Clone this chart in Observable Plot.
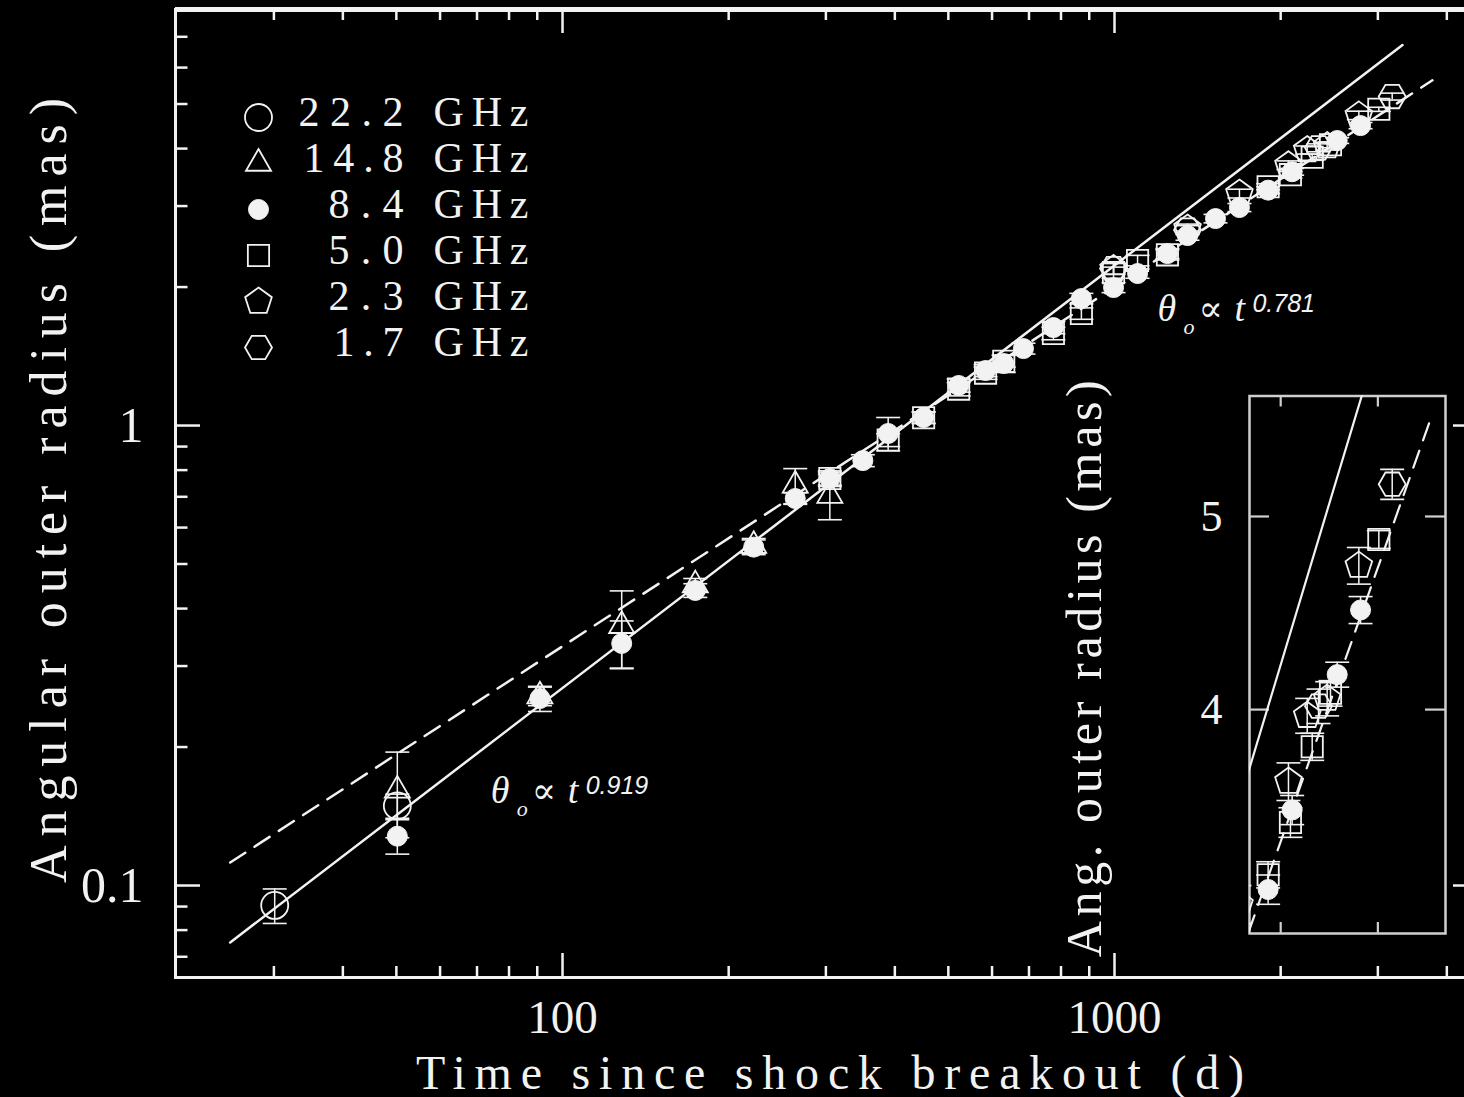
<!DOCTYPE html>
<html>
<head>
<meta charset="utf-8">
<script src="https://cdn.jsdelivr.net/npm/d3@7"></script>
<script src="https://cdn.jsdelivr.net/npm/@observablehq/plot@0.6"></script>
<style>
  html, body { margin: 0; padding: 0; background: #000; overflow: hidden; }
  #wrap { position: relative; width: 1464px; height: 1097px; overflow: hidden; background: #000; }
  #wrap > svg { position: absolute; }
</style>
</head>
<body>
<div id="wrap"></div>
<script>
// ---------------- data ----------------
const xDomain = [19.9, 4565];
const yDomain = [0.0631, 8.025];
const xMajorTicks = [100, 1000];
const xMinorTicks = [30, 40, 50, 60, 70, 80, 90, 200, 300, 400, 500, 600, 700, 800, 900, 2000, 3000, 4000];
const yMajorTicks = [0.1, 1];
const yMinorTicks = [0.07, 0.08, 0.09, 0.2, 0.3, 0.4, 0.5, 0.6, 0.7, 0.8, 0.9, 2, 3, 4, 5, 6, 7];

const freqLabels = ["22.2", "14.8", "8.4", "5.0", "2.3", "1.7"];
const legendNumberWidths = [105, 100, 75, 75, 75, 70];

// 22.2 GHz (open circles)
const t_222 = [30.1, 50.2];
const theta_222 = [0.0905, 0.149];
const err_222 = [0.0078, 0.009];

// 14.8 GHz (open triangles)
const t_148 = [50.2, 91.0, 128, 174, 222, 264, 305];
const theta_148 = [0.161, 0.258, 0.367, 0.450, 0.548, 0.741, 0.704];
const err_148 = [0.034, 0.012, 0.070, 0.015, 0.020, 0.065, 0.080];

// 8.4 GHz (filled circles)
const t_84 = [50.2, 91.0, 128, 174, 222, 264, 305, 350, 389, 451, 522, 584, 630, 684, 775, 871, 996, 1101, 1247, 1356, 1524, 1684, 1898, 2098, 2532, 2791];
const theta_84 = [0.128, 0.255, 0.336, 0.438, 0.544, 0.694, 0.767, 0.839, 0.961, 1.041, 1.222, 1.317, 1.364, 1.470, 1.633, 1.888, 1.995, 2.140, 2.365, 2.588, 2.818, 2.978, 3.249, 3.562, 4.165, 4.488];
const err_84 = [0.011, 0.016, 0.040, 0.015, 0.020, 0.020, 0.025, 0.025, 0.080, 0.030, 0.040, 0.040, 0.060, 0.040, 0.050, 0.050, 0.050, 0.050, 0.060, 0.060, 0.060, 0.060, 0.055, 0.060, 0.060, 0.070];

// 5.0 GHz (open squares)
const t_50 = [305, 389, 451, 522, 584, 630, 775, 871, 996, 1101, 1247, 1898, 2083, 2281, 2462, 3012];
const theta_50 = [0.767, 0.930, 1.040, 1.200, 1.300, 1.380, 1.586, 1.752, 2.150, 2.284, 2.350, 3.305, 3.511, 3.832, 4.076, 4.869];
const err_50 = [0.03, 0.03, 0.03, 0.04, 0.04, 0.04, 0.05, 0.05, 0.06, 0.06, 0.06, 0.05, 0.06, 0.06, 0.06, 0.05];

// 2.3 GHz (open pentagons)
const t_23 = [996, 1356, 1684, 2066, 2234, 2428, 2771];
const theta_23 = [2.190, 2.681, 3.194, 3.681, 3.972, 4.051, 4.724];
const err_23 = [0.06, 0.06, 0.07, 0.08, 0.08, 0.08, 0.10];

// 1.7 GHz (open hexagons)
const t_17 = [996, 1356, 2342, 3185];
const theta_17 = [2.194, 2.660, 4.016, 5.190];
const err_17 = [0.06, 0.06, 0.08, 0.09];

// power-law fits
const fitSolidT = [25.0, 3325];
const fitSolidTheta = [0.0752, 6.72];
const fitDashT = [25.0, 3767];
const fitDashTheta = [0.1122, 5.63];

// annotations
const annotT = [74.1, 1196];
const annotTheta = [0.1508, 1.691];
const annotExp = ["0.919", "0.781"];

// inset
const insetXDomain = [1756, 3978];
const insetYDomain = [3.088, 5.747];
const insetXTicks = [2000, 3000];
const insetYTicks = [4, 5];

// ---------------- symbols ----------------
const INK = "#f2f2f2";
const SERIF = "'Liberation Serif', 'DejaVu Serif', serif";
const SANS = "'Liberation Sans', 'DejaVu Sans', sans-serif";

function polygon(n, start) {
  return {
    draw(ctx, size) {
      const R = Math.sqrt(size / Math.PI);
      for (let k = 0; k < n; ++k) {
        const a = start + k * 2 * Math.PI / n;
        const px = R * Math.cos(a), py = R * Math.sin(a);
        if (k === 0) ctx.moveTo(px, py); else ctx.lineTo(px, py);
      }
      ctx.closePath();
    }
  };
}
const pentagonSym = polygon(5, -Math.PI / 2);
const hexagonSym = polygon(6, 0);
const capSym = {
  draw(ctx, size) {
    const w = Math.sqrt(size / Math.PI);
    ctx.moveTo(-w, 0);
    ctx.lineTo(w, 0);
  }
};

const series = [
  {label: "22.2", t: t_222, theta: theta_222, err: err_222, symbol: "circle", r: 13.5, filled: false},
  {label: "14.8", t: t_148, theta: theta_148, err: err_148, symbol: "triangle", r: 9.3, filled: false},
  {label: "8.4", t: t_84, theta: theta_84, err: err_84, symbol: "circle", r: 10, filled: true},
  {label: "5.0", t: t_50, theta: theta_50, err: err_50, symbol: "square", r: 12, filled: false},
  {label: "2.3", t: t_23, theta: theta_23, err: err_23, symbol: pentagonSym, r: 14, filled: false},
  {label: "1.7", t: t_17, theta: theta_17, err: err_17, symbol: hexagonSym, r: 13.5, filled: false}
];
const drawOrder = ["8.4", "22.2", "14.8", "5.0", "2.3", "1.7"];

const rows = series.flatMap(s => s.t.map((t, i) => ({band: s.label, t, theta: s.theta[i], err: s.err[i]})));
const fitSolid = fitSolidT.map((t, i) => ({t, theta: fitSolidTheta[i]}));
const fitDash = fitDashT.map((t, i) => ({t, theta: fitDashTheta[i]}));
const annots = annotT.map((t, i) => ({t, theta: annotTheta[i], exp: annotExp[i]}));

function dataMarks(clip) {
  const marks = [
    Plot.ruleX(rows, {x: "t", y1: d => d.theta - d.err, y2: d => d.theta + d.err, stroke: INK, strokeWidth: 1.5, clip}),
    Plot.dot(rows, {x: "t", y: d => d.theta + d.err, symbol: capSym, r: 12, stroke: INK, strokeWidth: 1.6, clip}),
    Plot.dot(rows, {x: "t", y: d => d.theta - d.err, symbol: capSym, r: 12, stroke: INK, strokeWidth: 1.6, clip})
  ];
  for (const lab of drawOrder) {
    const s = series.find(q => q.label === lab);
    marks.push(Plot.dot(rows.filter(d => d.band === lab), {
      x: "t", y: "theta", symbol: s.symbol, r: s.r,
      fill: s.filled ? INK : "none", stroke: INK, strokeWidth: s.filled ? 1 : 1.8, clip
    }));
  }
  return marks;
}

function fitText(svg, str, len) {
  d3.select(svg).selectAll("text")
    .filter(function () { return this.textContent === str; })
    .attr("textLength", len).attr("lengthAdjust", "spacing");
}

// ---------------- main plot ----------------
const W = 1479, H = 1097;
const mL = 175, mR = 1, mT = 9, mB = 120;
const frameW = W - mL - mR, frameH = H - mT - mB;
const fmt = d3.format("~g");

const mainSvg = Plot.plot({
  width: W, height: H,
  marginLeft: mL, marginRight: mR, marginTop: mT, marginBottom: mB,
  x: {type: "log", domain: xDomain, label: null},
  y: {type: "log", domain: yDomain, label: null},
  style: {background: "#000", color: INK, fontFamily: SERIF, fontSize: "50px", maxWidth: "none"},
  marks: [
    Plot.frame({stroke: INK, strokeWidth: 3}),
    Plot.ruleY([yDomain[1]], {stroke: INK, strokeWidth: 5}),
    Plot.tickX(xMajorTicks, {x: d => d, insetTop: frameH - 24, stroke: INK, strokeWidth: 2.5}),
    Plot.tickX(xMajorTicks, {x: d => d, insetBottom: frameH - 24, stroke: INK, strokeWidth: 2.5}),
    Plot.tickX(xMinorTicks, {x: d => d, insetTop: frameH - 11, stroke: INK, strokeWidth: 2.5}),
    Plot.tickX(xMinorTicks, {x: d => d, insetBottom: frameH - 11, stroke: INK, strokeWidth: 2.5}),
    Plot.tickY(yMajorTicks, {y: d => d, insetRight: frameW - 25, stroke: INK, strokeWidth: 2.5}),
    Plot.tickY(yMajorTicks, {y: d => d, insetLeft: frameW - 25, stroke: INK, strokeWidth: 2.5}),
    Plot.tickY(yMinorTicks, {y: d => d, insetRight: frameW - 12.5, stroke: INK, strokeWidth: 2.5}),
    Plot.tickY(yMinorTicks, {y: d => d, insetLeft: frameW - 12.5, stroke: INK, strokeWidth: 2.5}),
    Plot.axisX({ticks: xMajorTicks, tickSize: 0, tickPadding: 22.6, tickFormat: fmt, label: null, fontSize: 47}),
    Plot.axisY({ticks: yMajorTicks, tickSize: 0, tickPadding: 32, tickFormat: fmt, label: null, fontSize: 50}),
    Plot.text(["Time since shock breakout (d)"], {text: d => d, frameAnchor: "bottom", textAnchor: "middle", dx: 3, dy: 111, lineAnchor: "bottom", fontSize: 48}),
    Plot.text(["Angular outer radius (mas)"], {text: d => d, frameAnchor: "left", textAnchor: "middle", rotate: -90, dx: -110, dy: -3, lineAnchor: "bottom", fontSize: 52}),
    Plot.line(fitSolid, {x: "t", y: "theta", stroke: INK, strokeWidth: 2.5}),
    Plot.line(fitDash, {x: "t", y: "theta", stroke: INK, strokeWidth: 2.5, strokeDasharray: "18,11"}),
    ...dataMarks(false),
    Plot.text(annots, {x: "t", y: "theta", text: d => "θo∝t" + d.exp, textAnchor: "start", lineAnchor: "bottom", fontSize: 36})
  ]
});

fitText(mainSvg, "Time since shock breakout (d)", 828);
fitText(mainSvg, "Angular outer radius (mas)", 785);

// rich-text annotations
d3.select(mainSvg).selectAll("text").each(function () {
  const i = annots.findIndex(a => this.textContent === "θo∝t" + a.exp);
  if (i < 0) return;
  const ax = this.hasAttribute("x") && !isNaN(+this.getAttribute("x")) ? +this.getAttribute("x") : 0;
  const ay = this.hasAttribute("y") && !isNaN(+this.getAttribute("y")) ? +this.getAttribute("y") : 0;
  const el = d3.select(this);
  el.text(null).attr("y", ay);
  const parts = [
    {s: "θ", x: 0, y: 0, size: 38, style: "italic", family: SERIF},
    {s: "o", x: 26, y: 13, size: 22, style: "italic", family: SERIF},
    {s: "∝", x: 41, y: 0, size: 36, style: "normal", family: SERIF},
    {s: "t", x: 77, y: 0, size: 38, style: "italic", family: SERIF},
    {s: annots[i].exp, x: 95, y: -9, size: 25, style: "italic", family: SANS}
  ];
  for (const p of parts) {
    el.append("tspan")
      .attr("x", ax + p.x).attr("y", ay + p.y)
      .attr("font-size", p.size).attr("font-style", p.style).attr("font-family", p.family)
      .text(p.s);
  }
});

// ---------------- legend ----------------
const legendSvg = Plot.plot({
  width: 340, height: 300,
  marginLeft: 58, marginRight: 0, marginTop: 46.7, marginBottom: 23.3,
  y: {type: "point", domain: freqLabels, padding: 0, axis: null},
  style: {background: "transparent", color: INK, fontFamily: SERIF, fontSize: "42px", maxWidth: "none", overflow: "visible"},
  marks: [
    ...series.map(s => Plot.dot([s.label], {
      y: d => d, frameAnchor: "left", symbol: s.symbol, r: s.r,
      fill: s.filled ? INK : "none", stroke: INK, strokeWidth: s.filled ? 1 : 1.8
    })),
    Plot.text(freqLabels, {y: d => d, text: d => d, frameAnchor: "left", dx: 145, dy: -5, textAnchor: "end", fontSize: 42}),
    Plot.text(freqLabels, {y: d => d, text: () => "GHz", frameAnchor: "left", dx: 175, dy: -5, textAnchor: "start", fontSize: 42})
  ]
});
freqLabels.forEach((lab, i) => fitText(legendSvg, lab, legendNumberWidths[i]));
fitText(legendSvg, "GHz", 95);
legendSvg.style.left = "200px";
legendSvg.style.top = "70px";

// ---------------- inset ----------------
const iW = 424, iH = 600, iL = 209, iR = 19, iT = 25.5, iB = 37;
const iFrameW = iW - iL - iR, iFrameH = iH - iT - iB;
const insetSvg = Plot.plot({
  width: iW, height: iH,
  marginLeft: iL, marginRight: iR, marginTop: iT, marginBottom: iB,
  x: {type: "log", domain: insetXDomain, axis: null, label: null},
  y: {type: "log", domain: insetYDomain, label: null},
  style: {background: "transparent", color: INK, fontFamily: SERIF, fontSize: "44px", maxWidth: "none", overflow: "visible"},
  marks: [
    Plot.frame({stroke: "#cfcfcf", strokeWidth: 2.5}),
    Plot.tickX(insetXTicks, {x: d => d, insetTop: iFrameH - 11, stroke: "#cfcfcf", strokeWidth: 2.2}),
    Plot.tickX(insetXTicks, {x: d => d, insetBottom: iFrameH - 11, stroke: "#cfcfcf", strokeWidth: 2.2}),
    Plot.tickY(insetYTicks, {y: d => d, insetRight: iFrameW - 20, stroke: "#cfcfcf", strokeWidth: 2.2}),
    Plot.tickY(insetYTicks, {y: d => d, insetLeft: iFrameW - 20, stroke: "#cfcfcf", strokeWidth: 2.2}),
    Plot.axisY({ticks: insetYTicks, tickSize: 0, tickPadding: 27, tickFormat: fmt, label: null, fontSize: 44}),
    Plot.text(["Ang. outer radius (mas)"], {text: d => d, frameAnchor: "left", textAnchor: "middle", rotate: -90, dx: -149, dy: 4, lineAnchor: "bottom", fontSize: 50}),
    Plot.line(fitSolid, {x: "t", y: "theta", stroke: INK, strokeWidth: 2.2, clip: true}),
    Plot.line(fitDash, {x: "t", y: "theta", stroke: INK, strokeWidth: 2.2, strokeDasharray: "18,11", clip: true}),
    ...dataMarks(true)
  ]
});
fitText(insetSvg, "Ang. outer radius (mas)", 577);
insetSvg.style.left = "1040px";
insetSvg.style.top = "370px";

mainSvg.style.left = "0px";
mainSvg.style.top = "0px";

const wrap = document.getElementById("wrap");
wrap.appendChild(mainSvg);
wrap.appendChild(legendSvg);
wrap.appendChild(insetSvg);
</script>
</body>
</html>
